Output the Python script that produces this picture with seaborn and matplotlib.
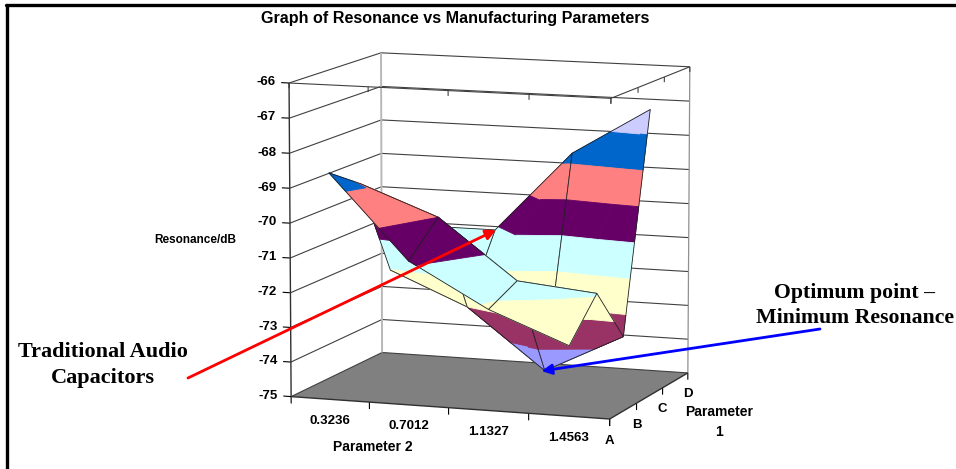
import numpy as np
import matplotlib
matplotlib.use("Agg")
import matplotlib.pyplot as plt
from mpl_toolkits.mplot3d.art3d import Poly3DCollection
import seaborn as sns

# values
param2_labels = ["0.3236", "0.7012", "1.1327", "1.4563"]
param1_labels = ["A", "B", "C", "D"]
z_ticks = [-66, -67, -68, -69, -70, -71, -72, -73, -74, -75]
resonance_a = [-68.5, -70.88, -72.12, -73.0]
resonance_b = [-69.15, -70.0, -71.7, -71.92]
resonance_c = [-72.05, -73.0, -74.73, -73.58]
resonance_d = [-71.1, -71.1, -68.7, -67.3]
band_colors = ["#9999FF", "#CCCCFF", "#0066CC", "#FF8080", "#660066", "#CCFFFF", "#FFFFCC", "#993366", "#9999FF"]

W, H = 956, 469
sns.set_style("white")
plt.rcParams["font.family"] = ["Liberation Sans", "DejaVu Sans"]
plt.rcParams["text.color"] = "black"
fig = plt.figure(figsize=(W / 100, H / 100), dpi=100)
ax = fig.add_axes([0.2421, -0.0468, 0.5306, 1.0815], projection="3d", computed_zorder=False)
ax.set_xlim(0, 4)
ax.set_ylim(0, 3)
ax.set_zlim(-75, -66)
ax.autoscale(False)
ax.set_axis_off()
ax.set_xticks([])
ax.set_yticks([])
ax.set_zticks([])

# camera found by fitting the corners of the box
ax.view_init(elev=9.222, azim=-70.262, roll=0)
ax.set_proj_type("persp", focal_length=np.exp(0.594))
ax.set_box_aspect((338.102, 255.761, 318.537))

line_col = "#404040"


def line(xs, ys, zs, color=line_col, lw=0.8, z=2):
    ax.plot(xs, ys, zs, color=color, lw=lw, zorder=z, solid_capstyle="butt")


# floor
floor = Poly3DCollection([[(0, 0, -75), (4, 0, -75), (4, 3, -75), (0, 3, -75)]],
                         facecolors="#808080", edgecolors="none", zorder=1)
ax.add_collection3d(floor, autolim=False)

# walls and gridlines
for zv in z_ticks:
    line([0, 0, 4], [0, 3, 3], [zv, zv, zv])
    line([-0.1, 0], [0, 0], [zv, zv], color="black")
    ax.text(-0.17, 0, zv, str(zv), ha="right", va="center", fontsize=9.5, fontweight="bold", zorder=60)
line([0, 0], [3, 3], [-75, -66], color="#B8B8B8", lw=1.4)
line([4, 4], [3, 3], [-75, -66], color="#909090", lw=0.9)
line([0, 0], [0, 0], [-75, -66], color="#303030", lw=1, z=3)
line([0, 4, 4], [0, 0, 3], [-66, -66, -66])
line([0, 4, 4], [0, 0, 3], [-75, -75, -75], color="#303030", lw=1, z=3)
for xv in range(5):
    line([xv, xv], [0, 0], [-75, -75.2], color="black")
    line([xv, xv], [0, 0], [-66, -66.15])
for yv in range(4):
    line([4, 4], [yv, yv], [-75, -75.2], color="black")
    line([4, 4], [yv, yv], [-66, -66.15])


def clip(poly, level, keep_above):
    out = []
    for a, b in zip(poly, poly[1:] + poly[:1]):
        ina = a[2] >= level if keep_above else a[2] <= level
        inb = b[2] >= level if keep_above else b[2] <= level
        if ina:
            out.append(a)
        if ina != inb:
            t = (level - a[2]) / (b[2] - a[2])
            out.append(tuple(a[i] + t * (b[i] - a[i]) for i in range(3)))
    return out


def band_parts(tri):
    polys, cols = [], []
    for b, col in enumerate(sns.color_palette(band_colors)):
        part = clip(clip(tri, -66 - b, False), -67 - b, True)
        if len(part) >= 3:
            polys.append(part)
            cols.append(col)
    return polys, cols


# surface, back to front so nearer cells cover farther ones
# each cell is split along one diagonal, the contours bend on it
rows = [resonance_a, resonance_b, resonance_c, resonance_d]
order = 10
for j in [2, 1, 0]:
    for i in [0, 1, 2]:
        p0 = (i + 0.5, j, rows[j][i])
        p1 = (i + 1.5, j, rows[j][i + 1])
        p2 = (i + 1.5, j + 1, rows[j + 1][i + 1])
        p3 = (i + 0.5, j + 1, rows[j + 1][i])
        for k, tri in enumerate([[p0, p2, p3], [p0, p1, p2]]):
            polys, cols = band_parts(tri)
            pc = Poly3DCollection(polys, facecolors=cols, edgecolors=cols, linewidths=0.6,
                                  zorder=order + 0.1 * k)
            ax.add_collection3d(pc, autolim=False)
        loop = [p0, p1, p2, p3, p0]
        line([q[0] for q in loop], [q[1] for q in loop], [q[2] for q in loop],
             color="#202020", lw=0.6, z=order + 0.5)
        order += 1

for i, lab in enumerate(param2_labels):
    ax.text(i + 0.5, 0, -75.62, lab, ha="center", va="center", fontsize=9.5, fontweight="bold", zorder=60)
for j, lab in enumerate(param1_labels):
    ax.text(4, j, -75.62, lab, ha="center", va="center", fontsize=9.5, fontweight="bold", zorder=60)

# text and arrows in picture pixels
top = fig.add_axes([0, 0, 1, 1], zorder=5)
top.set_xlim(0, W)
top.set_ylim(H, 0)
top.set_xticks([])
top.set_yticks([])
top.axis("off")
top.patch.set_alpha(0)
top.plot([7.5, 7.5], [5, H], color="black", lw=2.4)
top.plot([6, W], [5.5, 5.5], color="black", lw=2.4)
top.text(455, 18, "Graph of Resonance vs Manufacturing Parameters", ha="center", va="center",
         fontsize=11.6, fontweight="bold")
top.text(195, 240, "Resonance/dB", ha="center", va="center", fontsize=8.5, fontweight="bold")
top.text(373, 447, "Parameter 2", ha="center", va="center", fontsize=10, fontweight="bold")
top.text(719, 422, "Parameter\n1", ha="center", va="center", fontsize=10, fontweight="bold", linespacing=1.6)
top.text(103, 365, "Traditional Audio\nCapacitors", ha="center", va="center", fontsize=16,
         fontweight="bold", family="Liberation Serif", linespacing=1.35)
top.text(855, 305.5, "Optimum point \u2013\nMinimum Resonance", ha="center", va="center", fontsize=15.7,
         fontweight="bold", family="Liberation Serif", linespacing=1.35)
top.annotate("", xy=(496, 230), xytext=(188, 378),
             arrowprops=dict(arrowstyle="-|>", color="#FF0000", lw=2, mutation_scale=15, shrinkA=0, shrinkB=0))
top.annotate("", xy=(541.5, 371), xytext=(820, 329),
             arrowprops=dict(arrowstyle="-|>", color="#0000FF", lw=2, mutation_scale=15, shrinkA=0, shrinkB=0))

fig.savefig("out.png", dpi=100)
